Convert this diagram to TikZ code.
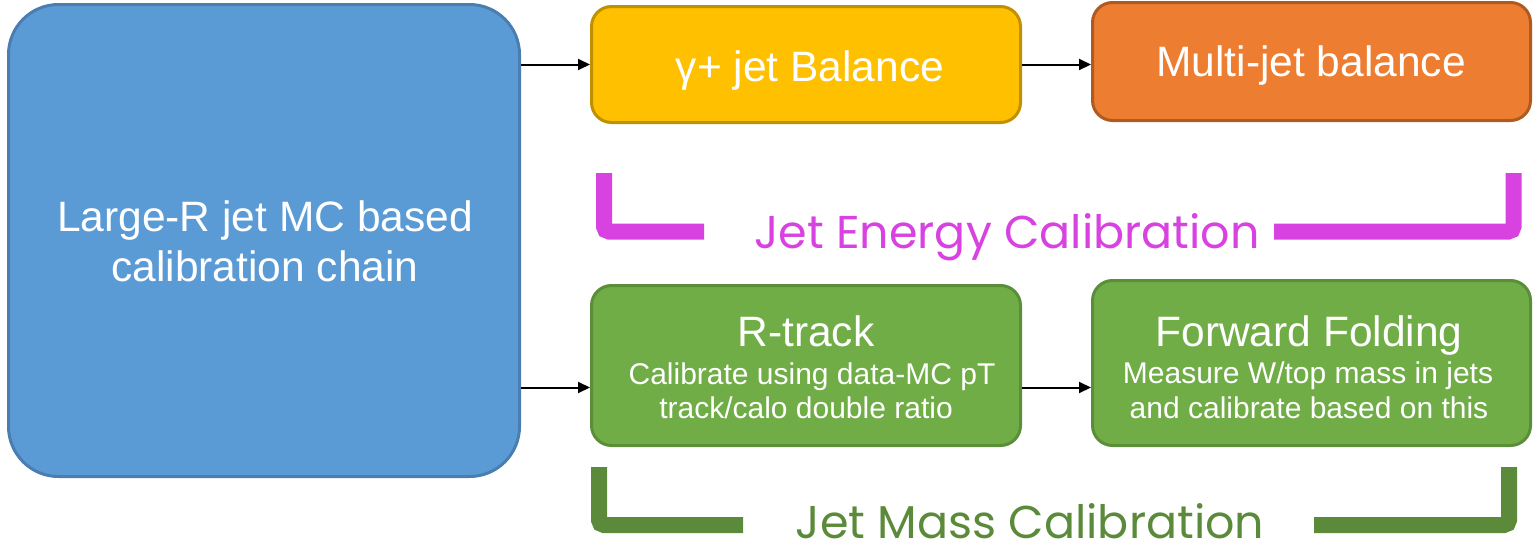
\documentclass[tikz,border=0pt]{standalone}
\usepackage{fontspec}
\setmainfont{Liberation Sans}
\newfontfamily\geofont{Poppins}
\usetikzlibrary{arrows.meta}

\definecolor{mcblue}{HTML}{5B9BD5}
\definecolor{mcblueedge}{HTML}{4A7DB0}
\definecolor{gjyellow}{HTML}{FFC000}
\definecolor{gjyellowedge}{HTML}{BF9000}
\definecolor{mjorange}{HTML}{ED7D31}
\definecolor{mjorangeedge}{HTML}{AE5A21}
\definecolor{jmgreen}{HTML}{70AD47}
\definecolor{jmgreenedge}{HTML}{5A8E38}
\definecolor{jecmagenta}{HTML}{D742E0}
\definecolor{jmcgreen}{HTML}{5B8A3A}

\tikzset{
  box/.style={draw, line width=3pt, rounded corners=20pt, inner sep=0pt},
  title/.style={text=white, inner sep=0pt, anchor=base, font=\fontsize{42.5}{50}\selectfont},
  sub/.style={text=white, inner sep=0pt, anchor=base, font=\fontsize{30}{34}\selectfont},
  conn/.style={line width=2pt, -{Triangle[length=12pt,width=11pt]}},
  bracket/.style={line width=16pt, rounded corners=5pt},
  brlabel/.style={inner sep=0pt, anchor=base, text depth=0pt, font=\geofont\fontsize{46}{50}\selectfont},
}

\begin{document}
\begin{tikzpicture}[x=1pt, y=-1pt]
\useasboundingbox (0,0) rectangle (1537,549);

% blocks of the calibration chain
\node[box, fill=mcblue, draw=mcblueedge, rounded corners=50pt,
      minimum width=511pt, minimum height=472pt] (mc) at (264,240.5) {};
\node[box, fill=gjyellow, draw=gjyellowedge,
      minimum width=429pt, minimum height=116pt] (gj) at (806,64.5) {};
\node[box, fill=mjorange, draw=mjorangeedge,
      minimum width=438pt, minimum height=118pt] (mj) at (1311.5,61.5) {};
\node[box, fill=jmgreen, draw=jmgreenedge,
      minimum width=429pt, minimum height=160pt] (rt) at (806,365.5) {};
\node[box, fill=jmgreen, draw=jmgreenedge,
      minimum width=438pt, minimum height=165pt] (ff) at (1311.5,363) {};

% texts of the blocks
\node[title] (mc-l1) at (265,231.5) {Large-R jet MC based};
\node[title] (mc-l2) at (265,281.5) {calibration chain};
\node[title] (gj-t) at (810,81) {γ+ jet Balance};
\node[title] (mj-t) at (1311,76) {Multi-jet balance};
\node[title] (rt-t) at (806,346) {R-track};
\node[sub] (rt-s1) at (812,384) {Calibrate using data-MC pT};
\node[sub] (rt-s2) at (806,418) {track/calo double ratio};
\node[title] (ff-t) at (1309,346) {Forward Folding};
\node[sub] (ff-s1) at (1308,383) {Measure W/top mass in jets};
\node[sub] (ff-s2) at (1309,418) {and calibrate based on this};

% connectors
\draw[conn] (mc.east |- gj.west) -- (gj.west);
\draw[conn] (gj.east) -- (gj.east -| mj.west);
\draw[conn] ([yshift=-22pt]mc.east |- rt.west) -- ([yshift=-22pt]rt.west);
\draw[conn] ([yshift=-22pt]rt.east) -- ([yshift=-22pt]rt.east -| ff.west);

% jet energy calibration bracket
\draw[bracket, jecmagenta] (604,173) -- (604,231.5) -- (704,231.5);
\draw[bracket, jecmagenta] (1274,231.5) -- (1513.5,231.5) -- (1513.5,173);
\node[brlabel, text=jecmagenta] (jec) at (1007,248) {Jet Energy Calibration};

% jet mass calibration bracket
\draw[bracket, jmcgreen] (599,467) -- (599,525) -- (743,525);
\draw[bracket, jmcgreen] (1314,525) -- (1509,525) -- (1509,467);
\node[brlabel, text=jmcgreen] (jmc) at (1030,538) {Jet Mass Calibration};
\end{tikzpicture}
\end{document}
